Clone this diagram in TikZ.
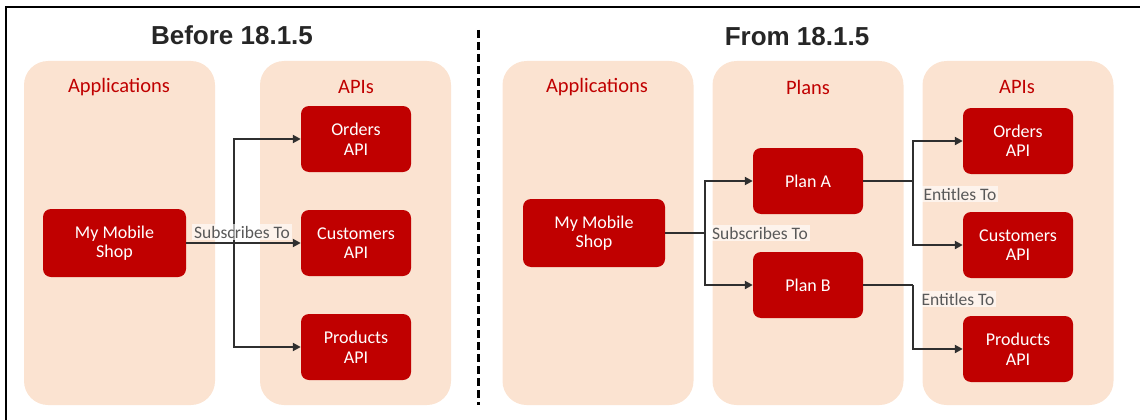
\documentclass[tikz,border=0pt]{standalone}
\usepackage{fontspec}
\setmainfont{Carlito}
\newfontfamily\headfont{Liberation Sans}
\usepackage{xcolor}
\usepackage{tikz}
\usetikzlibrary{arrows.meta,shapes}

\definecolor{panelpeach}{HTML}{FBE3D1}
\definecolor{boxred}{HTML}{C00000}
\definecolor{linegray}{HTML}{2F2F2F}
\definecolor{notegray}{HTML}{595959}
\definecolor{titlegray}{HTML}{262626}

\tikzset{
  panel/.style={fill=panelpeach,rounded corners=24pt,minimum width=191pt,minimum height=344pt,inner sep=0pt},
  panelhead/.style={text=boxred,font=\fontsize{20.5}{24}\selectfont},
  redbox/.style={fill=boxred,text=white,rounded corners=8pt,minimum width=110pt,minimum height=66pt,align=center,font=\fontsize{18}{19.5}\selectfont},
  linklabel/.style={fill=white,fill opacity=0.6,text opacity=1,text=notegray,font=\fontsize{17.5}{20}\selectfont,inner sep=2pt},
  link/.style={draw=linegray,line width=2.7pt,>={Triangle[length=8pt,width=8pt]}},
  heading/.style={text=titlegray,font=\headfont\bfseries\fontsize{26}{30}\selectfont}
}

\begin{document}
\begin{tikzpicture}[x=1pt,y=-1pt]
\useasboundingbox (0,0) rectangle (1140,420);
\draw [line width=2.5pt] (6,420) -- (6,7) -- (1140,7);
\draw [line width=3pt,dash pattern=on 8pt off 4pt] (478,30) -- (478,405);

\node (beforetitle) at (232,35) [heading] {Before 18.1.5};
\node (fromtitle) at (797,37) [heading] {From 18.1.5};

\node (leftapps) at (119.5,233) [panel] {};
\node (leftapis) at (355.5,233) [panel] {};
\node (rightapps) at (598,233) [panel] {};
\node (rightplans) at (808,233) [panel] {};
\node (rightapis) at (1018,233) [panel] {};

\node (leftappshead) at (119,87) [panelhead] {Applications};
\node (leftapishead) at (356,87) [panelhead] {APIs};
\node (rightappshead) at (597,87) [panelhead] {Applications};
\node (rightplanshead) at (808,87) [panelhead] {Plans};
\node (rightapishead) at (1017,87) [panelhead] {APIs};

\node (leftshop) at (114.5,243) [redbox,minimum width=143pt,minimum height=68pt] {My Mobile\\Shop};
\node (leftorders) at (356,139) [redbox] {Orders\\API};
\node (leftcustomers) at (356,243) [redbox] {Customers\\API};
\node (leftproducts) at (356,347) [redbox] {Products\\API};

\node (rightshop) at (594,233) [redbox,minimum width=142pt,minimum height=68pt] {My Mobile\\Shop};
\node (plana) at (808,181) [redbox] {Plan A};
\node (planb) at (808,285) [redbox] {Plan B};
\node (rightorders) at (1018,141) [redbox] {Orders\\API};
\node (rightcustomers) at (1018,245) [redbox] {Customers\\API};
\node (rightproducts) at (1018,349) [redbox] {Products\\API};

\coordinate (leftfork) at (234,243);
\coordinate (subfork) at (705,233);
\coordinate (entforka) at (913,181);
\coordinate (entforkb) at (913,285);

\draw [link] (leftshop) -- (leftfork);
\draw [link,->] (leftfork) |- (leftorders);
\draw [link,->] (leftfork) -- (leftcustomers);
\draw [link,->] (leftfork) |- (leftproducts);

\draw [link] (rightshop) -- (subfork);
\draw [link,->] (subfork) |- (plana);
\draw [link,->] (subfork) |- (planb);

\draw [link] (plana) -- (entforka);
\draw [link,->] (entforka) |- (rightorders);
\draw [link,->] (entforka) |- (rightcustomers);
\draw [link] (planb) -- (entforkb);
\draw [link,->] (entforkb) |- (rightproducts);

\node (leftsubs) at (242,232) [linklabel] {Subscribes To};
\node (rightsubs) at (760,233) [linklabel] {Subscribes To};
\node (entitlesa) at (960,194) [linklabel] {Entitles To};
\node (entitlesb) at (958,299) [linklabel] {Entitles To};
\end{tikzpicture}
\end{document}
